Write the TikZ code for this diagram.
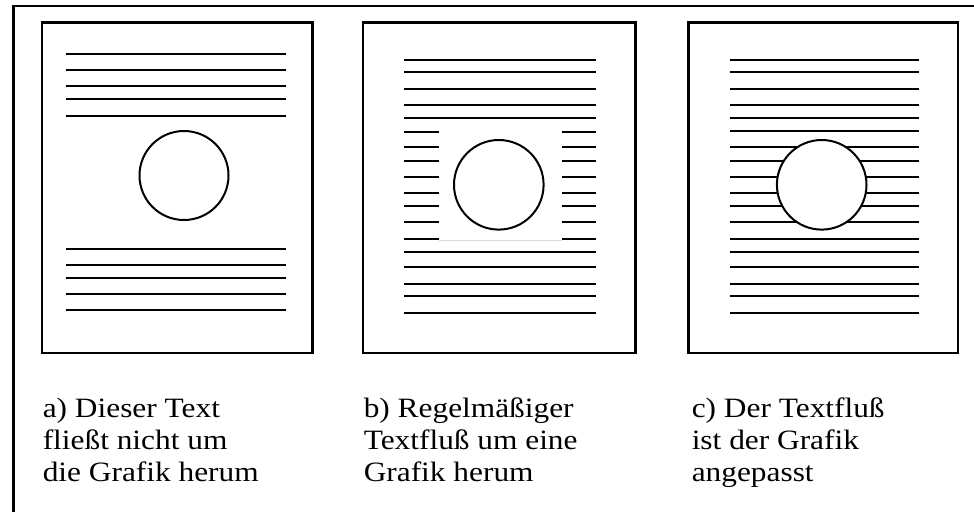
\documentclass[tikz,border=0pt]{standalone}
\usepackage{fontspec}
\setmainfont{Liberation Serif}
\begin{document}
\begin{tikzpicture}[x=0.75pt,y=-0.75pt,
  outerframe/.style={line width=1.9pt},
  pageborder/.style={line width=1.7pt},
  textline/.style={line width=1.5pt},
  graphic/.style={line width=1.5pt, draw=black, fill=white},
  caption/.style={anchor=base west, inner sep=0pt}]
\useasboundingbox (0,0) rectangle (974,511);

% open outer frame (left and top edges only)
\draw[outerframe] (13.3,515) -- (13.3,6.2) -- (978,6.2);

% three pages
\draw[pageborder] (42,22.5) rectangle (312.5,352.8);
\draw[pageborder] (362.8,22.5) rectangle (635.5,352.8);
\draw[pageborder] (688.5,22.5) rectangle (958.2,352.8);

% a) text above and below the graphic, no flow around it
\foreach \y in {54,70,86,99.3,115.7,248.7,264.7,278,294,310.3}
  \draw[textline] (65.7,\y) -- (286,\y);
\draw[graphic] (184,175.5) circle[radius=44.5];

% b) regular flow around a rectangular box
\foreach \y in {60,72.3,88.7,104.7,118,251.7,267.3,283.7,296.3,312.7}
  \draw[textline] (404.3,\y) -- (596.3,\y);
\foreach \y in {131.7,147.3,161,176.7,192.7,206.3,222,238.7}{
  \draw[textline] (404.3,\y) -- (439,\y);
  \draw[textline] (562,\y) -- (596.3,\y);
}
\draw[black!15, line width=0.6pt] (439,240) -- (562,240);
\draw[graphic] (498.8,184.8) circle[radius=44.8];

% c) flow adapted to the graphic's outline
\foreach \y in {60,72.3,88.7,104.7,118,131.3,147.3,161,176.7,192.7,206.3,222,238.7,251.7,267.3,283.7,296.3,312.7}
  \draw[textline] (730,\y) -- (919,\y);
\draw[graphic] (821.7,184.8) circle[radius=44.8];

% captions
\newcommand\captext[1]{\fontsize{21}{24}\selectfont\scalebox{1.12}[1]{\begin{tabular}[t]{@{}l@{}}#1\end{tabular}}}
\node[caption] (capa) at (42.5,417.5) {\captext{a) Dieser Text\\fließt nicht um\\die Grafik herum}};
\node[caption] (capb) at (363.5,417.5) {\captext{b) Regelmäßiger\\Textfluß um eine\\Grafik herum}};
\node[caption] (capc) at (691.5,417.5) {\captext{c) Der Textfluß\\ist der Grafik\\angepasst}};
\end{tikzpicture}
\end{document}
